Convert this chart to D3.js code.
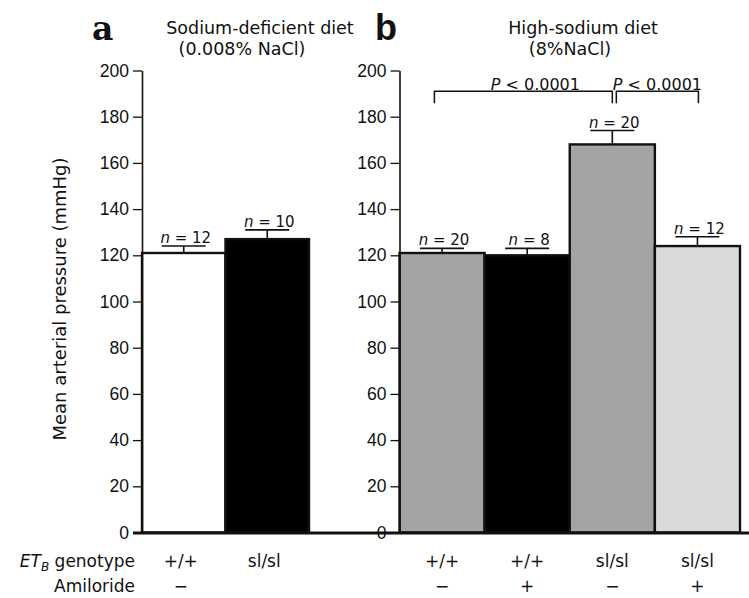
<!DOCTYPE html>
<html>
<head>
  <meta charset="utf-8">
  <title>Mean arterial pressure by diet</title>
  <script src="https://d3js.org/d3.v7.min.js"></script>
  <style>
    body, html {
      margin: 0;
      padding: 0;
      background: #fff;
    }
    svg {
      display: block;
      font-family: "DejaVu Sans", sans-serif;
    }
    .axis path, .axis line {
      stroke: #111;
    }
    .axis text {
      font-size: 17.5px;
      fill: #111;
    }
  </style>
</head>
<body>
  <svg id="chart"></svg>

  <script>
    // data
    var yTicks = [0, 20, 40, 60, 80, 100, 120, 140, 160, 180, 200];

    // panel a: sodium-deficient diet
    var aGenotype = ["+/+", "sl/sl"];
    var aAmiloride = ["−", ""];
    var aMean = [121, 127];
    var aSem = [3, 4];
    var aN = [12, 10];

    // panel b: high-sodium diet
    var bGenotype = ["+/+", "+/+", "sl/sl", "sl/sl"];
    var bAmiloride = ["−", "+", "−", "+"];
    var bMean = [121, 120, 168, 124];
    var bSem = [2, 3, 6, 4];
    var bN = [20, 8, 20, 12];

    var comparisons = [
      { from: 0, to: 2, level: 191, label: "P < 0.0001" },
      { from: 2, to: 3, level: 191, label: "P < 0.0001" }
    ];

    var width = 749, height = 598;
    var svg = d3.select("#chart")
      .attr("width", width)
      .attr("height", height);

    var yScale = d3.scaleLinear()
      .domain([0, 200])
      .range([532.5, 70.5]);

    var xA = d3.scaleBand().domain(d3.range(aMean.length)).range([142, 309]).padding(0);
    var xB = d3.scaleBand().domain(d3.range(bMean.length)).range([399.5, 740]).padding(0);

    var aFill = ["#ffffff", "#000000"];
    var bFill = ["#a4a4a4", "#000000", "#a4a4a4", "#d9d9d9"];

    function drawPanel(x, axisX, mean, sem, n, fills) {
      var g = svg.append("g");

      // bars
      g.selectAll("rect.bar")
        .data(mean)
        .join("rect")
        .attr("class", "bar")
        .attr("x", function(d, i) { return x(i); })
        .attr("y", function(d) { return yScale(d); })
        .attr("width", x.bandwidth())
        .attr("height", function(d) { return yScale(0) - yScale(d); })
        .attr("fill", function(d, i) { return fills[i]; })
        .attr("stroke", "#111")
        .attr("stroke-width", 2.4);

      // error bars (upper only)
      var cx = function(i) { return x(i) + x.bandwidth() / 2; };
      g.selectAll("line.stem")
        .data(mean)
        .join("line")
        .attr("class", "stem")
        .attr("x1", function(d, i) { return cx(i); })
        .attr("x2", function(d, i) { return cx(i); })
        .attr("y1", function(d) { return yScale(d); })
        .attr("y2", function(d, i) { return yScale(d + sem[i]); })
        .attr("stroke", "#111")
        .attr("stroke-width", 1.6);

      g.selectAll("line.cap")
        .data(mean)
        .join("line")
        .attr("class", "cap")
        .attr("x1", function(d, i) { return cx(i) - 22; })
        .attr("x2", function(d, i) { return cx(i) + 22; })
        .attr("y1", function(d, i) { return yScale(d + sem[i]); })
        .attr("y2", function(d, i) { return yScale(d + sem[i]); })
        .attr("stroke", "#111")
        .attr("stroke-width", 1.6);

      // n labels
      var lab = g.selectAll("text.n")
        .data(mean)
        .join("text")
        .attr("class", "n")
        .attr("x", function(d, i) { return cx(i) + 2; })
        .attr("y", function(d, i) { return yScale(d + sem[i]) - 3; })
        .attr("text-anchor", "middle")
        .style("font-size", "15px")
        .attr("fill", "#111");
      lab.append("tspan").style("font-style", "italic").text("n");
      lab.append("tspan").text(function(d, i) { return " = " + n[i]; });

      // y axis
      g.append("g")
        .attr("class", "axis")
        .attr("transform", "translate(" + axisX + ",0)")
        .call(d3.axisLeft(yScale).tickValues(yTicks).tickSize(9).tickPadding(4).tickSizeOuter(0))
        .call(function(s) {
          s.select(".domain").attr("stroke-width", 1.6);
          s.selectAll(".tick line").attr("stroke-width", 1.3);
        });

      return cx;
    }

    var cxA = drawPanel(xA, 142, aMean, aSem, aN, aFill);
    var cxB = drawPanel(xB, 399.5, bMean, bSem, bN, bFill);

    // common baseline
    svg.append("line")
      .attr("x1", 133).attr("x2", 749)
      .attr("y1", yScale(0) + 0.5).attr("y2", yScale(0) + 0.5)
      .attr("stroke", "#111")
      .attr("stroke-width", 3);

    // significance brackets
    comparisons.forEach(function(c, k) {
      var x1 = k === 0 ? xB(c.from) + xB.bandwidth() * 0.41 : cxB(c.from) + 4;
      var x2 = k === 0 ? cxB(c.to) : cxB(c.to) + 1;
      var yy = yScale(c.level);
      svg.append("path")
        .attr("d", "M" + x1 + "," + (yy + 12) + "V" + yy + "H" + x2 + "V" + (yy + 12))
        .attr("fill", "none")
        .attr("stroke", "#111")
        .attr("stroke-width", 1.5);
      var t = svg.append("text")
        .attr("x", (x1 + x2) / 2 + (k === 0 ? 12 : 0))
        .attr("y", yy - 1)
        .attr("text-anchor", "middle")
        .style("font-size", "16px")
        .attr("fill", "#111");
      t.append("tspan").style("font-style", "italic").text("P");
      t.append("tspan").text(c.label.slice(1));
    });

    // category labels
    function rowLabels(cx, values, y, shift) {
      svg.append("g").selectAll("text")
        .data(values)
        .join("text")
        .attr("x", function(d, i) { return cx(i) + shift; })
        .attr("y", y)
        .attr("text-anchor", "middle")
        .style("font-size", "17px")
        .attr("fill", "#111")
        .text(function(d) { return d; });
    }
    rowLabels(cxA, aGenotype, 567, -3);
    rowLabels(cxA, aAmiloride, 592, -3);
    rowLabels(cxB, bGenotype, 567, 0);
    rowLabels(cxB, bAmiloride, 592, 0);

    var et = svg.append("text")
      .attr("x", 135).attr("y", 567)
      .attr("text-anchor", "end")
      .style("font-size", "17px")
      .attr("fill", "#111");
    et.append("tspan").style("font-style", "italic").text("ET");
    et.append("tspan").style("font-style", "italic").style("font-size", "12px").attr("dy", 4).text("B");
    et.append("tspan").attr("dy", -4).text(" genotype");

    svg.append("text")
      .attr("x", 135).attr("y", 592)
      .attr("text-anchor", "end")
      .style("font-size", "17px")
      .attr("fill", "#111")
      .text("Amiloride");

    // y axis title
    svg.append("text")
      .attr("transform", "translate(66,299) rotate(-90)")
      .attr("text-anchor", "middle")
      .style("font-size", "18px")
      .attr("fill", "#111")
      .text("Mean arterial pressure (mmHg)");

    // panel titles
    svg.append("text")
      .attr("x", 92).attr("y", 40)
      .style("font-family", "'DejaVu Serif', serif")
      .style("font-weight", "bold")
      .style("font-size", "33px")
      .attr("fill", "#111")
      .text("a");

    svg.append("text")
      .attr("x", 375).attr("y", 40)
      .style("font-family", "'Liberation Sans', sans-serif")
      .style("font-weight", "bold")
      .style("font-size", "36px")
      .attr("fill", "#111")
      .text("b");

    var titles = [
      { x: 260, y: 34, text: "Sodium-deficient diet" },
      { x: 242, y: 55, text: "(0.008% NaCl)" },
      { x: 583, y: 34, text: "High-sodium diet" },
      { x: 570, y: 55, text: "(8%NaCl)" }
    ];
    svg.append("g").selectAll("text")
      .data(titles)
      .join("text")
      .attr("x", function(d) { return d.x; })
      .attr("y", function(d) { return d.y; })
      .attr("text-anchor", "middle")
      .style("font-size", "17.5px")
      .attr("fill", "#111")
      .text(function(d) { return d.text; });
  </script>
</body>
</html>
